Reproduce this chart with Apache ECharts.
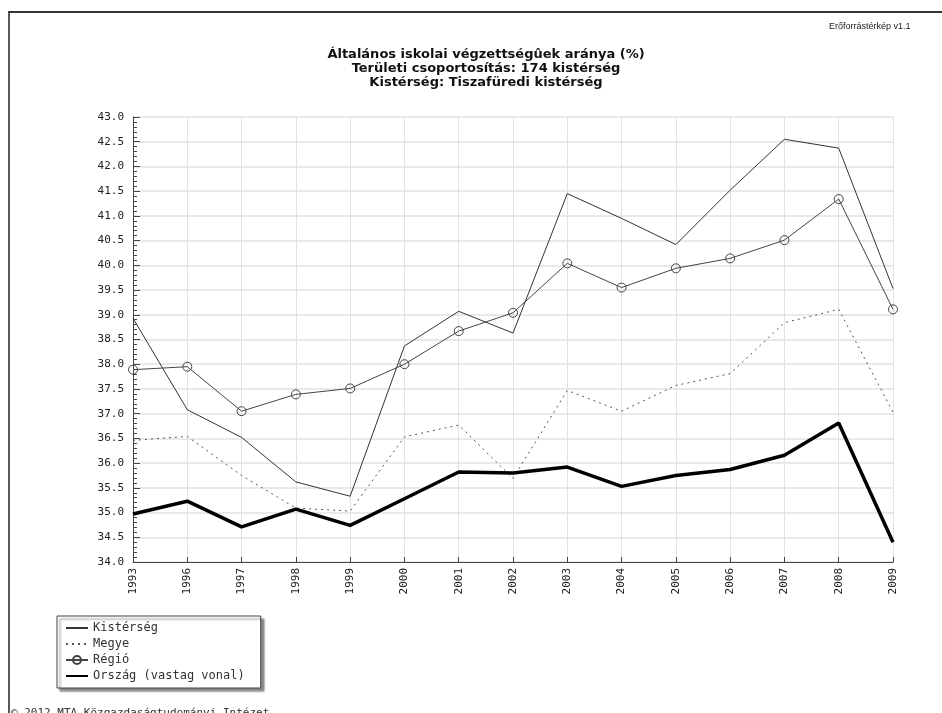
<!DOCTYPE html>
<html>
<head>
<meta charset="utf-8">
<script src="https://cdn.jsdelivr.net/npm/echarts@6/dist/echarts.min.js"></script>
<style>html,body{margin:0;padding:0;background:#fff;}#c{width:942px;height:713px;}</style>
</head>
<body>
<div id="c"></div>
<script>
const years = ['1993','1996','1997','1998','1999','2000','2001','2002','2003','2004','2005','2006','2007','2008','2009'];
const kisterseg = [38.93,37.08,36.52,35.62,35.33,38.37,39.07,38.63,41.45,40.95,40.42,41.52,42.55,42.37,39.53];
const megye = [36.46,36.54,35.75,35.09,35.03,36.53,36.77,35.69,37.47,37.05,37.57,37.81,38.84,39.11,37.03];
const regio = [37.89,37.95,37.05,37.39,37.51,38.0,38.67,39.04,40.04,39.55,39.94,40.14,40.51,41.34,39.11];
const orszag = [34.97,35.23,34.71,35.07,34.74,35.28,35.82,35.80,35.92,35.53,35.75,35.87,36.16,36.81,34.40];
const seriesNames = ['Kistérség','Megye','Régió','Ország (vastag vonal)'];
const titleLines = ['Általános iskolai végzettségûek aránya (%)','Területi csoportosítás: 174 kistérség','Kistérség: Tiszafüredi kistérség'];

const chart = echarts.init(document.getElementById('c'), null, {renderer:'canvas'});
const mono = 'DejaVu Sans Mono';
chart.setOption({
  animation:false,
  backgroundColor:'#fff',
  title:{
    text: titleLines.join('\n'),
    left: 481, top: 43, textAlign:'center',
    textStyle:{fontFamily:'DejaVu Sans', fontSize:13, fontWeight:'bold', color:'#111', lineHeight:14}
  },
  graphic:[
    {type:'line', shape:{x1:9,y1:12,x2:942,y2:12}, style:{stroke:'#333',lineWidth:2}},
    {type:'line', shape:{x1:9,y1:11,x2:9,y2:713}, style:{stroke:'#222',lineWidth:1.5}},
    {type:'text', left:829, top:22, style:{text:'Erőforrástérkép v1.1', font:'9px Liberation Sans', fill:'#222'}},
    {type:'text', left:11, top:708, style:{text:'© 2012 MTA Közgazdaságtudományi Intézet', font:'11px '+mono, fill:'#333'}}
  ],
  legend:{
    orient:'vertical', left:57, top:616,
    data: seriesNames.map((n,i)=> i===2 ? {name:n} : {name:n, itemStyle:{opacity:0}}),
    itemWidth:22, itemHeight:10, itemGap:4,
    padding:[6,16,6,8],
    backgroundColor:'#fff', borderColor:'#444', borderWidth:1,
    shadowColor:'rgba(0,0,0,0.45)', shadowBlur:2, shadowOffsetX:3, shadowOffsetY:3,
    textStyle:{fontFamily:mono, fontSize:12, color:'#333'}
  },
  grid:{left:133, right:49, top:117, bottom:151, containLabel:false},
  xAxis:{
    type:'category', data:years, boundaryGap:false,
    axisLine:{lineStyle:{color:'#444', width:1}},
    axisTick:{inside:true, length:5, lineStyle:{color:'#444'}},
    axisLabel:{rotate:90, fontFamily:mono, fontSize:11, color:'#222', margin:6},
    splitLine:{show:true, lineStyle:{color:'#e2e2e2', width:1}}
  },
  yAxis:{
    type:'value', min:34, max:43, interval:0.5,
    axisLine:{show:true, lineStyle:{color:'#444', width:1}},
    axisTick:{show:true, inside:true, length:7, lineStyle:{color:'#444'}},
    minorTick:{show:true, splitNumber:5, length:4, lineStyle:{color:'#444'}},
    axisLabel:{formatter:v=>v.toFixed(1), fontFamily:mono, fontSize:11, color:'#222', margin:9},
    splitLine:{show:true, lineStyle:{color:'#e2e2e2', width:1.5}}
  },
  series:[
    {name:seriesNames[0], type:'line', data:kisterseg, symbol:'none', lineStyle:{color:'#333', width:1}, itemStyle:{color:'#333'}},
    {name:seriesNames[1], type:'line', data:megye, symbol:'none', lineStyle:{color:'#555', width:1, type:[2,4]}, itemStyle:{color:'#555'}},
    {name:seriesNames[2], type:'line', data:regio, symbol:'circle', symbolSize:9, showAllSymbol:true,
      lineStyle:{color:'#444', width:1}, itemStyle:{color:'rgba(255,255,255,0)', borderColor:'#444', borderWidth:1}},
    {name:seriesNames[3], type:'line', data:orszag, symbol:'none', lineStyle:{color:'#000', width:3.5}, itemStyle:{color:'#000'}}
  ]
});
</script>
</body>
</html>
